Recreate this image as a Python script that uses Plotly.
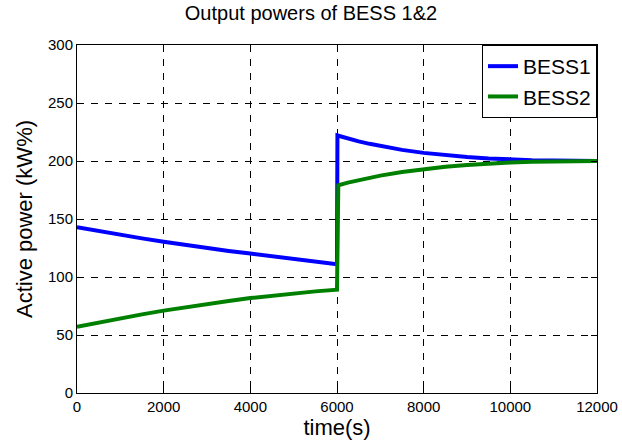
import plotly.graph_objects as go

t1 = [0, 500, 1000, 1500, 2000, 2500, 3000, 3500, 4000, 4500, 5000, 5500, 6000,
      6010, 6250, 6500, 6750, 7000, 7500, 8000, 8500, 9000, 9500, 10000, 10500, 11000, 12000]
bess1 = [143, 139.6, 136.4, 133.3, 130.4, 127.6, 125, 122.5, 120.2, 118, 115.9, 113.4, 111,
         222, 219.3, 216.9, 214.8, 212.9, 209.6, 207, 205, 203.4, 202.2, 201.3, 200.7, 200.4, 200]
t2 = [0, 500, 1000, 1500, 2000, 2500, 3000, 3500, 4000, 4500, 5000, 5500, 6000,
      6030, 6250, 6500, 6750, 7000, 7500, 8000, 8500, 9000, 9500, 10000, 10500, 11000, 12000]
bess2 = [57, 60.8, 64.4, 67.8, 71, 74, 76.8, 79.4, 81.8, 84, 86, 87.6, 89,
         179, 181.4, 183.6, 185.6, 187.4, 190.5, 193, 195, 196.6, 197.8, 198.7, 199.3, 199.7, 200]
xtick_vals = [0, 2000, 4000, 6000, 8000, 10000, 12000]
xtick_text = ["0", "2000", "4000", "6000", "8000", "10000", "12000"]
ytick_vals = [0, 50, 100, 150, 200, 250, 300]

fig = go.Figure()
fig.add_trace(go.Scatter(x=t1, y=bess1, mode="lines", name="BESS1",
                         line=dict(color="#0000ff", width=4)))
fig.add_trace(go.Scatter(x=t2, y=bess2, mode="lines", name="BESS2",
                         line=dict(color="#008000", width=4)))

axis_common = dict(showline=True, linecolor="black", linewidth=1, mirror="ticks",
                   ticks="inside", ticklen=6, tickcolor="black",
                   showgrid=True, gridcolor="black", griddash="7px,7px", gridwidth=1,
                   zeroline=False, tickfont=dict(size=15, color="black"))

fig.update_layout(
    width=622, height=443,
    margin=dict(l=77, r=25, t=45, b=50),
    paper_bgcolor="white", plot_bgcolor="white",
    font=dict(family="Liberation Sans", color="black"),
    title=dict(text="Output powers of BESS 1&2", x=0.5, xanchor="center", y=0.97, yanchor="middle",
               font=dict(size=20, color="black")),
    xaxis=dict(range=[0, 12000], tickvals=xtick_vals, ticktext=xtick_text, automargin="bottom",
               title=dict(text="time(s)", font=dict(size=22), standoff=1), **axis_common),
    yaxis=dict(range=[0, 300], tickvals=ytick_vals, automargin="left",
               title=dict(text="Active power (kW%)", font=dict(size=22), standoff=9), **axis_common),
    legend=dict(x=1, xanchor="right", y=1, yanchor="top", bgcolor="white",
                bordercolor="black", borderwidth=1, font=dict(size=21, color="black"),
                tracegroupgap=0, itemwidth=30),
    showlegend=True,
)

fig.write_html("out.html")
